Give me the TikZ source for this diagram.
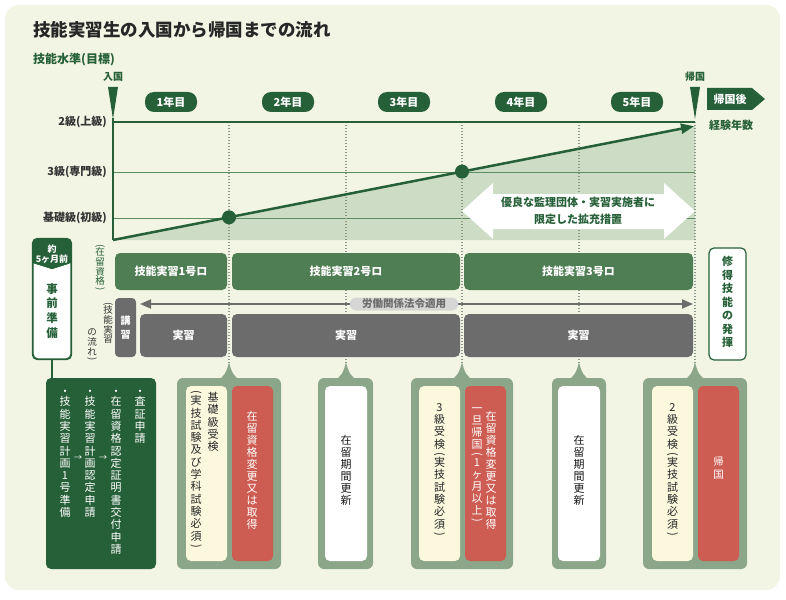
\documentclass[tikz,border=0pt]{standalone}
\usepackage{fontspec}
\usepackage{graphicx}
\setmainfont{Noto Sans CJK JP}
\usetikzlibrary{arrows.meta}
\definecolor{bg}{RGB}{242,245,228}
\definecolor{dg}{RGB}{38,96,56}
\definecolor{mg}{RGB}{80,126,84}
\definecolor{lg}{RGB}{204,220,197}
\definecolor{fg}{RGB}{139,166,136}
\definecolor{gy}{RGB}{108,108,108}
\definecolor{cr}{RGB}{251,248,222}
\definecolor{rd}{RGB}{205,92,82}
\definecolor{lgy}{RGB}{214,214,214}
\definecolor{ln}{RGB}{94,142,96}
\definecolor{dot}{RGB}{140,152,140}
\newcommand\vlp{\rotatebox[origin=c]{-90}{(}}
\newcommand\vrp{\rotatebox[origin=c]{-90}{)}}
\newcommand\fsz[2]{\fontsize{#1}{#2}\selectfont}
\begin{document}
\begin{tikzpicture}[x=1pt,y=-1pt,
  vt/.style={align=center, inner sep=0pt, anchor=north, font=\fsz{11}{12.3}},
  pill/.style={fill=dg, text=white, rounded corners=9pt, minimum width=52pt, minimum height=20pt, inner sep=0pt, font=\fsz{11}{11}\bfseries},
  bar/.style={rounded corners=5pt, inner sep=0pt, minimum height=37pt, font=\fsz{11}{11}\bfseries, text=white, fill=mg},
  gbar/.style={rounded corners=5pt, inner sep=0pt, minimum height=43pt, font=\fsz{11}{11}\bfseries, text=white, fill=gy},
  lvl/.style={anchor=east, inner sep=0pt, font=\fsz{11}{11}\bfseries, text=black!80},
  frame/.style={fill=fg, rounded corners=6pt, inner sep=0pt, minimum height=191pt},
  inbox/.style={rounded corners=5pt, inner sep=0pt, minimum height=175pt, minimum width=41pt},
  dotline/.style={dot, line width=1.3pt, dash pattern=on 1.3pt off 1.7pt}
]
\useasboundingbox (0,0) rectangle (786,599);
\fill[white] (0,0) rectangle (786,599);
\fill[bg, rounded corners=14pt] (5,5) rectangle (780,590);

% title
\node[anchor=west, inner sep=0, font=\fsz{17.5}{18}\bfseries, text=black!85] (title) at (33,30) {技能実習生の入国から帰国までの流れ};
\node[anchor=west, inner sep=0, font=\fsz{12}{12}\bfseries, text=dg] (sub) at (33,60) {技能水準(目標)};

% entry / return markers
\node[inner sep=0, font=\fsz{10}{10}\bfseries, text=dg] (inL) at (113,77) {入国};
\node[inner sep=0, font=\fsz{10}{10}\bfseries, text=dg] (outL) at (695,77) {帰国};
\fill[dg] (108,87) -- (118,87) -- (113,119) -- cycle;
\fill[dg] (690,87) -- (700,87) -- (695,119) -- cycle;

% year pills
\node[pill] (y1) at (171,102) {1年目};
\node[pill] (y2) at (288,102) {2年目};
\node[pill] (y3) at (404,102) {3年目};
\node[pill] (y4) at (521,102) {4年目};
\node[pill] (y5) at (637,102) {5年目};

% after return
\fill[dg] (707,88) -- (752,88) -- (765,99) -- (752,110) -- (707,110) -- cycle;
\node[inner sep=0, font=\fsz{11}{11}\bfseries, text=white] (after) at (730,99) {帰国後};
\node[inner sep=0, font=\fsz{11}{11}\bfseries, text=dg] (exp) at (731,125) {経験年数};

% chart
\coordinate (O) at (113,240);
\coordinate (E) at (694,126.2);
\fill[lg] (O) -- (695,126) -- (695,240) -- cycle;
\draw[ln, line width=1pt] (113,172) -- (695,172);
\draw[ln, line width=1pt] (113,218) -- (695,218);
\foreach \x in {229,346,462,579,695} \draw[dotline] (\x,122) -- (\x,363);

\node[lvl] (l2) at (107,122) {2級(上級)};
\node[lvl] (l3) at (107,172) {3級(専門級)};
\node[lvl] (l1) at (107,218) {基礎級(初級)};

% white double arrow
\fill[white] (462,211) -- (493,183) -- (493,194) -- (664,194) -- (664,183) -- (695,211) -- (664,239) -- (664,229) -- (493,229) -- (493,239) -- cycle;
\node[align=center, inner sep=0, font=\fsz{11}{16.5}\bfseries, text=dg] (ext) at (578,211) {優良な監理団体・実習実施者に\\限定した拡充措置};

% trend
\draw[dg, line width=2.5pt, -{Triangle[length=13pt,width=10pt]}] (O) -- (E);
\fill[dg] (229,217.3) circle[radius=7pt];
\fill[dg] (462,171.6) circle[radius=7pt];
\draw[dg, line width=1.8pt] (113,122) -- (695,122);
\draw[dg, line width=1.8pt] (113,118) -- (O);

% status bars
\node[bar, minimum width=112pt] (b1) at (171,271.5) {技能実習1号ロ};
\node[bar, minimum width=228pt] (b2) at (346,271.5) {技能実習2号ロ};
\node[bar, minimum width=229pt] (b3) at (578.5,271.5) {技能実習3号ロ};

% law arrow
\coordinate (gl) at (140,304);
\coordinate (gr) at (693,304);
\draw[gy, line width=2pt, {Triangle[length=11pt,width=9pt]}-{Triangle[length=11pt,width=9pt]}] (gl) -- (gr);
\node[fill=lgy, rounded corners=6pt, minimum width=108pt, minimum height=13pt, inner sep=0, font=\fsz{10.5}{10.5}\bfseries, text=gy] (law) at (404,304) {労働関係法令適用};

% practice bars
\node[fill=gy, rounded corners=4pt, minimum width=21pt, minimum height=59pt, inner sep=0] (lec) at (125.5,327.5) {};
\node[vt, anchor=center, text=white, font=\fsz{10}{14}\bfseries] (lect) at (lec) {講\\習};
\node[gbar, minimum width=87pt] (g1) at (183.5,335.5) {実習};
\node[gbar, minimum width=228pt] (g2) at (346,335.5) {実習};
\node[gbar, minimum width=229pt] (g3) at (578.5,335.5) {実習};

% left side labels
\node[vt, text=dg, font=\fsz{9.5}{9.8}] (zr) at (100,244) {\vlp\\[-3pt]在\\留\\資\\格\\[-3pt]\vrp};
\node[vt, text=black!80, font=\fsz{9.5}{9.8}] (fl1) at (108,302) {\vlp\\[-3pt]技\\能\\実\\習};
\node[vt, anchor=south, text=black!80, font=\fsz{9.5}{9.8}] (fl2) at (92,362) {の\\流\\れ\\[-3pt]\vrp};

% preparation box
\node[draw=dg, fill=white, line width=1.2pt, rounded corners=5pt, minimum width=38pt, minimum height=120pt, inner sep=0] (prep) at (52,299) {};
\fill[dg, rounded corners=4pt] (33,263) -- (33,239) -- (71,239) -- (71,263) [sharp corners] -- (52,269) -- cycle;
\fill[dg] (33,255) -- (71,255) -- (71,263) -- (52,269) -- (33,263) -- cycle;
\draw[dg, line width=1.2pt, rounded corners=5pt] (prep.north west) rectangle (prep.south east);
\node[inner sep=0, text=white, font=\fsz{9}{9}\bfseries] (abt) at (52,249) {約};
\node[inner sep=0, text=white, font=\fsz{9}{9}\bfseries] (five) at (52,259) {5ヶ月前};
\node[vt, text=dg, font=\fsz{11.5}{14.7}\bfseries] (prept) at (52,283) {事\\前\\準\\備};

\node[fill=dg, rounded corners=5pt, minimum width=110pt, minimum height=191pt, inner sep=0] (list) at (101,473.5) {};
\draw[dg, line width=1.2pt] (prep.south) -- (prep.south |- list.north);
\node[vt, text=white] (c4) at (140,390) {・\\[-2pt]査\\証\\申\\請};
\node[vt, text=white] (c3) at (116,390) {・\\[-2pt]在\\留\\資\\格\\認\\定\\証\\明\\書\\交\\付\\申\\請};
\node[vt, text=white] (c2) at (90,390) {・\\[-2pt]技\\能\\実\\習\\計\\画\\認\\定\\申\\請};
\node[vt, text=white] (c1) at (65,390) {・\\[-2pt]技\\能\\実\\習\\計\\画\\1\\号\\準\\備};
\node[inner sep=0, text=white, font=\fsz{8}{8}] (ar1) at (78,458) {→};
\node[inner sep=0, text=white, font=\fsz{8}{8}] (ar2) at (103,458) {→};

% outcome box
\node[draw=dg, fill=white, line width=1.2pt, rounded corners=5pt, minimum width=37pt, minimum height=112pt, inner sep=0] (skill) at (727.5,304) {};
\node[vt, text=dg, font=\fsz{11}{13.5}\bfseries] (skillt) at (727.5,256) {修\\得\\技\\能\\の\\発\\揮};

% bottom frames
\foreach \x in {229,346,462,579,695}
  \fill[fg] (\x-12,380) .. controls (\x-5,378) and (\x-2,371) .. (\x,362) .. controls (\x+2,371) and (\x+5,378) .. (\x+12,380) -- cycle;
\node[frame, minimum width=104pt] (fa) at (229,473.5) {};
\node[frame, minimum width=55pt] (fb) at (345.5,473.5) {};
\node[frame, minimum width=102pt] (fc) at (462,473.5) {};
\node[frame, minimum width=54pt] (fd) at (579,473.5) {};
\node[frame, minimum width=104pt] (fe) at (695,473.5) {};

\node[inbox, fill=cr] (ia1) at (206.5,473.5) {};
\node[inbox, fill=rd] (ia2) at (252.5,473.5) {};
\node[inbox, fill=white, minimum width=42pt] (ib) at (346,473.5) {};
\node[inbox, fill=cr] (ic1) at (439.5,473.5) {};
\node[inbox, fill=rd] (ic2) at (485.5,473.5) {};
\node[inbox, fill=white, minimum width=42pt] (id) at (579,473.5) {};
\node[inbox, fill=cr] (ie1) at (672.5,473.5) {};
\node[inbox, fill=rd] (ie2) at (718.5,473.5) {};

\node[vt, text=black!85] (ta1) at (213,392) {基\\礎\\級\\受\\検};
\node[vt, text=black!85] (ta2) at (196,390) {\vlp\\[-3pt]実\\技\\試\\験\\及\\び\\学\\科\\試\\験\\必\\須\\[-3pt]\vrp};
\node[vt, text=white, font=\fsz{11}{12}] (ta3) at (252,411) {在\\留\\資\\格\\変\\更\\又\\は\\取\\得};
\node[vt, anchor=center, text=black!90, font=\fsz{11}{12}] (tb) at (346,470) {在\\留\\期\\間\\更\\新};
\node[vt, text=black!85] (tc1) at (439.5,403) {3\\級\\受\\検\\[-3pt]\vlp\\[-3pt]実\\技\\試\\験\\必\\須\\[-3pt]\vrp};
\node[vt, text=white, font=\fsz{11}{12}] (tc2) at (491,411) {在\\留\\資\\格\\変\\更\\又\\は\\取\\得};
\node[vt, text=white, font=\fsz{11}{12}] (tc3) at (477,408) {一\\旦\\帰\\国\\[-3pt]\vlp\\[-3pt]1\\ヶ\\月\\以\\上\\[-3pt]\vrp};
\node[vt, anchor=center, text=black!90, font=\fsz{11}{12}] (td) at (579,470) {在\\留\\期\\間\\更\\新};
\node[vt, text=black!85] (te1) at (672.5,403) {2\\級\\受\\検\\[-3pt]\vlp\\[-3pt]実\\技\\試\\験\\必\\須\\[-3pt]\vrp};
\node[vt, anchor=center, text=white, font=\fsz{10.5}{13}] (te2) at (718.5,468) {帰\\国};
\end{tikzpicture}
\end{document}
